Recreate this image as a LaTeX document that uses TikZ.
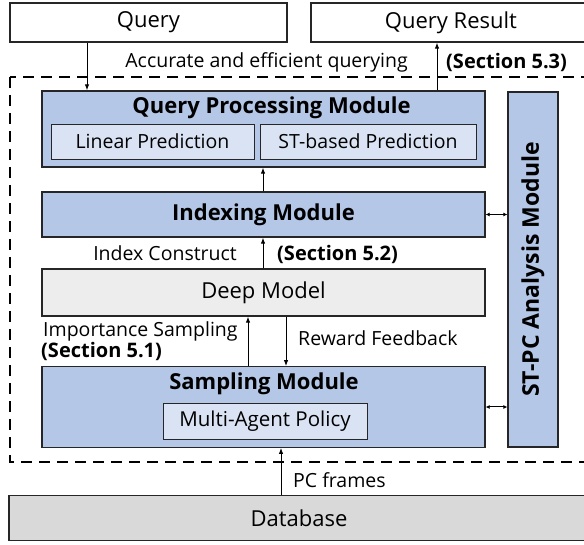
\documentclass[tikz,border=0pt]{standalone}
\usepackage{fontspec}
\setmainfont{Open Sans}
\usetikzlibrary{arrows.meta,calc}
\definecolor{modblue}{HTML}{B4C7E7}
\definecolor{innerblue}{HTML}{DAE3F3}
\definecolor{deepgray}{HTML}{EDEDED}
\definecolor{dbgray}{HTML}{D9D9D9}
\definecolor{edge}{HTML}{262626}
\begin{document}
\begin{tikzpicture}[x=1pt,y=-1pt,
  box/.style={draw=edge,line width=1.3pt,rectangle,inner sep=0pt,anchor=center},
  modbox/.style={box,fill=modblue},
  innerbox/.style={draw=edge,line width=0.9pt,fill=innerblue,inner sep=0pt,font=\fontsize{19.5}{22}\selectfont},
  plain/.style={inner sep=0pt,font=\fontsize{19.5}{22}\selectfont},
  bigtxt/.style={inner sep=0pt,font=\fontsize{22}{24}\selectfont},
  title/.style={inner sep=0pt,font=\fontsize{22}{24}\selectfont\bfseries},
  sec/.style={inner sep=0pt,font=\fontsize{20}{22}\selectfont\bfseries},
  arr/.style={line width=1pt,-{Latex[length=6pt,width=4.5pt]}},
  darr/.style={line width=1pt,{Latex[length=4pt,width=4pt]}-{Latex[length=4pt,width=4pt]}}
]
\useasboundingbox (0,0) rectangle (584,545);
\fill[white] (0,0) rectangle (584,545);

% dashed frame
\draw[line width=2.8pt,dash pattern=on 11pt off 7pt] (10,77) rectangle (600,462);

% top boxes
\node[box,fill=white,minimum width=277pt,minimum height=39pt,bigtxt] (query) at (148.5,22.5) {Query};
\node[box,fill=white,minimum width=280pt,minimum height=39pt,bigtxt] (result) at (451,22.5) {Query Result};

% query processing module
\node[modbox,minimum width=443pt,minimum height=76pt] (qpm) at (263.5,129) {};
\node[title] (qpmt) at (271.5,108) {Query Processing Module};
\node[innerbox,minimum width=203pt,minimum height=35pt] (lin) at (152.5,141.5) {Linear Prediction};
\node[innerbox,minimum width=216pt,minimum height=35pt] (stb) at (368,141.5) {ST-based Prediction};

% indexing
\node[modbox,minimum width=443pt,minimum height=45pt,title] (idx) at (263.5,214.5) {Indexing Module};

% deep model
\node[box,fill=deepgray,minimum width=443pt,minimum height=47pt,bigtxt] (deep) at (263.5,292.5) {Deep Model};

% sampling
\node[modbox,minimum width=443pt,minimum height=80.5pt] (samp) at (263.5,407) {};
\node[title] (sampt) at (264,384) {Sampling Module};
\node[innerbox,minimum width=204pt,minimum height=36pt,font=\fontsize{20.5}{23}\selectfont] (map) at (265,421) {Multi-Agent Policy};

% ST-PC analysis
\node[modbox,minimum width=50pt,minimum height=355pt] (stpc) at (533,269.5) {};
\node[title,rotate=90,font=\fontsize{23}{25}\selectfont\bfseries] (stpct) at (stpc.center) {ST-PC Analysis Module};

% database
\node[box,fill=dbgray,minimum width=580pt,minimum height=45.5pt,bigtxt,text width=570pt,align=center] (db) at (299,518) {Database};

% coordinates for arrow columns
\coordinate (c1) at (87,0);
\coordinate (c2) at (437,0);
\coordinate (c3) at (263,0);
\coordinate (c4) at (248,0);
\coordinate (c5) at (286,0);
\coordinate (c6) at (281,0);
\coordinate (r1) at (0,407);

% arrows
\draw[arr] (query.south -| c1) -- (qpm.north -| c1);
\draw[arr] (qpm.north -| c2) -- (result.south -| c2);
\draw[arr] (idx.north -| c3) -- (qpm.south -| c3);
\draw[arr] (deep.north -| c3) -- (idx.south -| c3);
\draw[arr] (samp.north -| c4) -- (deep.south -| c4);
\draw[arr] (deep.south -| c5) -- (samp.north -| c5);
\draw[arr] (db.north -| c6) -- (samp.south -| c6);
\draw[darr] (idx.east) -- (stpc.west |- idx.east);
\draw[darr] (samp.east |- r1) -- (stpc.west |- r1);

% labels
\node[plain,anchor=east] (l1) at (408,62) {Accurate and efficient querying};
\node[sec,anchor=west] (s3) at (446,62) {(Section 5.3)};
\node[plain,anchor=east] (l2) at (237,253) {Index Construct};
\node[sec,anchor=west] (s2) at (277,254) {(Section 5.2)};
\node[plain,anchor=west] (l3) at (43,331) {Importance Sampling};
\node[sec,anchor=west] (s1) at (41,351) {(Section 5.1)};
\node[plain,anchor=west] (l4) at (298,338) {Reward Feedback};
\node[plain,anchor=west] (l5) at (293,480) {PC frames};
\end{tikzpicture}
\end{document}
